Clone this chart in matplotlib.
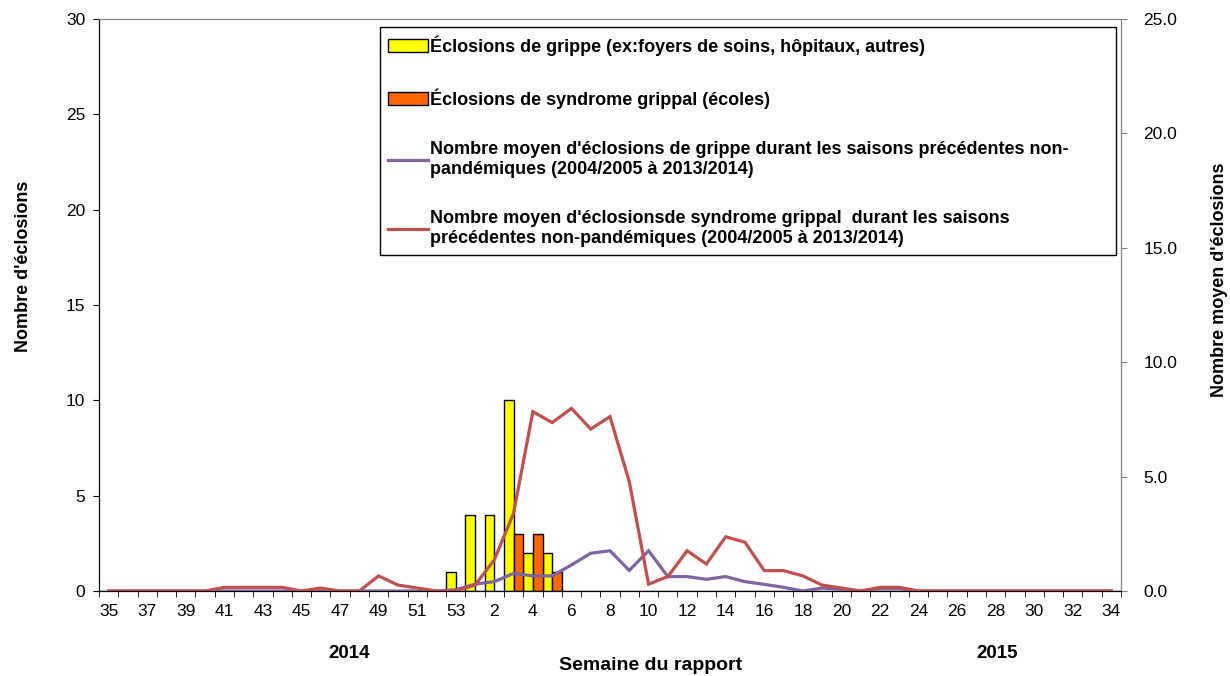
import matplotlib
matplotlib.use("Agg")
import matplotlib.pyplot as plt
from matplotlib.patches import Patch
from matplotlib.lines import Line2D
from matplotlib.ticker import FixedLocator, NullFormatter
import numpy as np

plt.rcParams["font.family"] = ["Liberation Sans", "DejaVu Sans"]

# weeks of the report: 35..53 (2014) then 1..34 (2015)
weeks = list(range(35, 54)) + list(range(1, 35))

# outbreak counts (left axis)
grippe = [0] * 18 + [1, 4, 4, 10, 2, 2] + [0] * 29
syndrome = [0] * 21 + [3, 3, 1] + [0] * 29

# historical averages (right axis)
moy_grippe = ([0] * 18 + [0.05,
              0.3, 0.41, 0.77, 0.66, 0.66, 1.14, 1.65, 1.76, 0.9, 1.76,
              0.63, 0.63, 0.51, 0.63, 0.41, 0.29, 0.16, 0.0, 0.13, 0.07,
              0.0, 0.1, 0.1] + [0] * 11)
moy_syndrome = ([0, 0, 0, 0, 0, 0, 0.16, 0.16, 0.16, 0.16, 0.0, 0.13, 0.0,
                 0.0, 0.66, 0.26, 0.13, 0.0, 0.0,
                 0.26, 1.36, 3.4, 7.84, 7.36, 7.98, 7.08, 7.62, 4.78, 0.3,
                 0.63, 1.76, 1.18, 2.37, 2.13, 0.89, 0.89, 0.66, 0.26, 0.13,
                 0.0, 0.16, 0.16] + [0] * 11)

labels = [
    "Éclosions de grippe (ex:foyers de soins, hôpitaux, autres)",
    "Éclosions de syndrome grippal (écoles)",
    "Nombre moyen d'éclosions de grippe durant les saisons précédentes non-\npandémiques (2004/2005 à 2013/2014)",
    "Nombre moyen d'éclosionsde syndrome grippal  durant les saisons\nprécédentes non-pandémiques (2004/2005 à 2013/2014)",
]

YELLOW = "#FFFF00"
ORANGE = "#FF6600"
PURPLE = "#8064A2"
RED = "#C0504D"

fig = plt.figure(figsize=(12.3, 6.76), dpi=100)
ax = fig.add_axes([99 / 1230, 85 / 676, 1022 / 1230, 572 / 676])
ax2 = ax.twinx()

x = np.arange(len(weeks))
w = 0.5
ax.bar(x - w / 2, grippe, width=w, color=YELLOW, edgecolor="black", linewidth=1, zorder=2)
ax.bar(x + w / 2, syndrome, width=w, color=ORANGE, edgecolor="black", linewidth=1, zorder=2)

ax2.plot(x, moy_grippe, color=PURPLE, linewidth=2.3, solid_joinstyle="miter")
ax2.plot(x, moy_syndrome, color=RED, linewidth=2.3, solid_joinstyle="miter")

ax.set_xlim(-0.5, len(weeks) - 0.5)
ax.set_ylim(0, 30)
ax2.set_ylim(0, 25)
ax.set_yticks(range(0, 31, 5))
ax2.set_yticks(range(0, 26, 5))
ax2.set_yticklabels([f"{v:.1f}" for v in range(0, 26, 5)])

ax.set_xticks(x[::2])
ax.set_xticklabels([str(wk) for wk in weeks[::2]])
ax.xaxis.set_minor_locator(FixedLocator(np.arange(-0.5, len(weeks), 1)))
ax.xaxis.set_minor_formatter(NullFormatter())
ax.tick_params(axis="x", which="major", length=0, pad=9, labelsize=12.5)
ax.tick_params(axis="x", which="minor", length=4, direction="out", color="black")
ax.tick_params(axis="y", length=4, direction="out", labelsize=12.5, pad=6)
ax2.tick_params(axis="y", length=4, direction="out", color="#808080", labelsize=12.5, pad=12)

for a in (ax, ax2):
    a.spines["top"].set_color("#808080")
    a.spines["right"].set_color("#808080")
    a.spines["left"].set_color("black")
    a.spines["bottom"].set_color("black")
ax2.set_zorder(ax.get_zorder() + 1)
ax.patch.set_visible(False)

handles = [
    Patch(facecolor=YELLOW, edgecolor="black", linewidth=1),
    Patch(facecolor=ORANGE, edgecolor="black", linewidth=1),
    Line2D([], [], color=PURPLE, linewidth=2.3),
    Line2D([], [], color=RED, linewidth=2.3),
]
leg = ax2.legend(handles, labels, loc="upper left",
                 bbox_to_anchor=(281 / 1022, 564 / 572, 736 / 1022, 0.0),
                 mode="expand", frameon=True, fancybox=False,
                 prop={"weight": "bold", "size": 13},
                 labelspacing=1.8, handlelength=2.2, handletextpad=0.1,
                 borderpad=0.45, borderaxespad=0)
leg.get_frame().set_edgecolor("black")
leg.get_frame().set_linewidth(1)
leg.get_frame().set_facecolor("white")
leg.get_frame().set_alpha(1)

fig.text(24 / 1230, 1 - 266 / 676, "Nombre d'éclosions", rotation=90,
         ha="center", va="center", fontsize=13, fontweight="bold")
fig.text(1219 / 1230, 1 - 280 / 676, "Nombre moyen d'éclosions", rotation=90,
         ha="center", va="center", fontsize=13, fontweight="bold")
fig.text(651 / 1230, 1 - 666 / 676, "Semaine du rapport",
         ha="center", va="center", fontsize=14, fontweight="bold")
fig.text(349 / 1230, 1 - 653 / 676, "2014", ha="center", va="center",
         fontsize=13.5, fontweight="bold")
fig.text(997 / 1230, 1 - 653 / 676, "2015", ha="center", va="center",
         fontsize=13.5, fontweight="bold")

fig.savefig("out.png", dpi=100)
